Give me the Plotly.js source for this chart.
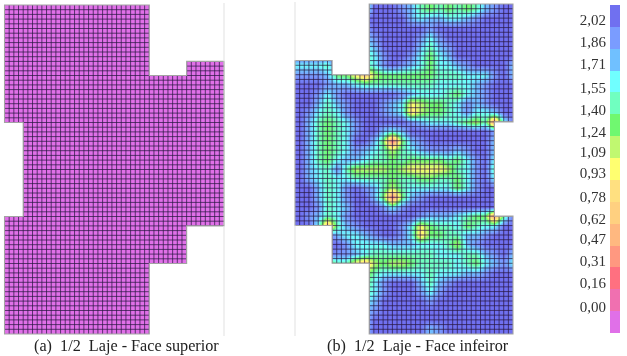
<!DOCTYPE html>
<html><head><meta charset="utf-8">
<script src="https://cdn.plot.ly/plotly-3.0.1.min.js"></script>
<style>html,body{margin:0;padding:0;background:#fff;overflow:hidden}#c{width:627px;height:356px;filter:blur(0.5px)}</style>
</head><body><div id="c"></div>
<script>
// legend: value of each band, bottom band first
const levelValues = [-0.16,0.00,0.16,0.31,0.47,0.62,0.78,0.93,1.09,1.24,1.40,1.55,1.71,1.86,2.02];
const levelColors = ['#e070e8','#f070b0','#ff7080','#ff9880','#ffb880','#ffd080','#ffe080','#ffff70','#c0f870','#70f870','#70ffc0','#70ffff','#70c0ff','#7a9cff','#7070f0'];
const legendLabels = ['2,02','1,86','1,71','1,55','1,40','1,24','1,09','0,93','0,78','0,62','0,47','0,31','0,16','0,00'];
const legendLabelPos = [0.69,1.69,2.69,3.79,4.80,5.80,6.72,7.68,8.78,9.78,10.70,11.70,12.70,13.80];
const captions = ['(a)\u00a0\u00a01/2\u00a0\u00a0Laje - Face superior','(b)\u00a0\u00a01/2\u00a0\u00a0Laje - Face infeiror'];

// face inferior: stress band index (hex), one character per 2 mesh cells
const faceInferiorBands = [
"eeeeeeeaeeedca9a9a9acdee",
"eeeeeeeeeeeecbccbbcdeeee",
"eeeeeeedeeeeeedeeeeeeeee",
"eeeeeeecdeeeedbdeeeeeeee",
"eeeeeeebceeeecacdeeeeeee",
"eeeeeeeabdeedb9bceeeeeee",
"bbbaeeeabdedcb9bbcdeeeec",
"dddc99758999999aaabbbdec",
"eeedccbaaaaaaaabbbbcdeee",
"eedbdeeeeeedcbbba9bcdeee",
"eecacdeeedcb7899abdcdeee",
"edbabdeeedcb6899abdbbcee",
"eca9abdeeeeedcbbba98a3be",
"eca9abdeecbceeeeeeeeedee",
"eca9abeec929cdeeeeeeecee",
"eca9abdcba8abcdddcdeecee",
"eca9bccbaa9a9999a9bdebee",
"ecbada88889877778abdeaee",
"ecbabbaaaa9aa99aa9bdebee",
"eecabdedca8abbbbb9bdeeee",
"eecabdeec929cdeeeeeeeeee",
"eedabceeedbdeeeeeeeeeeee",
"edcabdeeeeeeedcccba993ae",
"eeb4acdeeeedb79aab9abbee",
"eeeecbbcdeedb699aaccdeee",
"eeeeedbbbbcccbbba8cdeeee",
"eeeeddcbaaaaaaabbbaacdec",
"eee8aa7589889aaaaba9bcdb",
"eeeeeee8abbbbbabbbccdeee",
"eeeeeee9bdeeecacdeeeeeee",
"eeeeeeeabdeeedbdeeeeeeee",
"eeeeeeebceeeeedeeeeeeeee",
"eeeeeeecdeeeeeeeeeeeeeee",
"eeeeeeeceeeeeeeeeeeeeeee",
"eeeeeeeceeeeeecdeeeeeeee"
];
const faceSuperiorValue = [[-0.16]];

// mesh size and slab outlines, in mesh cells
const meshCols = 47, meshRows = 70;
const outlineAx = [0,31,31,39,39,47,47,39,39,31,31,0,0,4,4,0,0];
const outlineAy = [0,0,15,15,12,12,47,47,55,55,70,70,45,45,25,25,0];
const outlineBx = [16,47,47,43,43,47,47,16,16,8,8,0,0,8,8,16,16];
const outlineBy = [0,0,25,25,45,45,70,70,55,55,47,47,12,12,15,15,0];
// cut-outs as [x0,x1,y0,y1]; they overlap or run past the slab edge so no seam shows
const holesA = [[31,48,-1,12],[31,39,11,15],[-1,4,25,45],[39,48,47,71],[31,40,55,71]];
const holesB = [[-1,16,-1,12],[8,16,11,15],[43,48,25,45],[-1,8,47,71],[7,16,55,71],[47,48,-1,71]];

const zInf = faceInferiorBands.map(r => r.split('').map(c => levelValues[parseInt(c,16)]));
const nodeX = zInf[0].map((_,i)=>2*i+1), nodeY = zInf.map((_,j)=>2*j+1);
const cs = levelColors.map((c,i)=>[(levelValues[i]-levelValues[0])/(levelValues[14]-levelValues[0]),c]);
const zr = {zmin:levelValues[0],zmax:levelValues[14],colorscale:cs,showscale:false,hoverinfo:'skip'};

const mx=[],my=[];
for(let i=1;i<meshCols;i++){mx.push(i,i,null);my.push(0,meshRows,null);}
for(let j=1;j<meshRows;j++){mx.push(0,meshCols,null);my.push(j,j,null);}
const mesh = (xa,ya)=>({type:'scatter',mode:'lines',x:mx,y:my,xaxis:xa,yaxis:ya,hoverinfo:'skip',
  line:{color:'rgba(40,22,65,0.72)',width:1}});

const data = [
 Object.assign({type:'heatmap',x:[0,meshCols],y:[0,meshRows],z:faceSuperiorValue,xaxis:'x',yaxis:'y'},zr),
 mesh('x','y'),
 Object.assign({type:'heatmap',x:nodeX,y:nodeY,z:zInf,zsmooth:'best',xaxis:'x2',yaxis:'y2'},zr),
 mesh('x2','y2'),
 Object.assign({type:'heatmap',x:[0,1],y:levelValues.map((_,i)=>i).concat([15]),z:levelValues.slice().reverse().map(v=>[v]),xaxis:'x3',yaxis:'y3'},zr)
];

const W=627,H=356;
const dx=(a,b)=>[a/W,b/W], dy=(a,b)=>[1-b/H,1-a/H];
const off={visible:false,fixedrange:true};
const holeShapes=(hs,xr,yr)=>hs.map(h=>({type:'rect',xref:xr,yref:yr,x0:h[0],x1:h[1],y0:h[2],y1:h[3],fillcolor:'#fff',line:{width:0},layer:'above'}));
const outline=(xs,ys,xr,yr)=>({type:'path',xref:xr,yref:yr,path:xs.map((x,i)=>(i?'L':'M')+x+','+ys[i]).join(' ')+' Z',line:{color:'#a3a3a3',width:1.1},layer:'above'});
const faint=(x,y0,y1,xr,yr)=>({type:'line',xref:xr,yref:yr,x0:x,x1:x,y0:y0,y1:y1,line:{color:'#e6e6e6',width:1.2},layer:'above'});

const layout={width:W,height:H,margin:{l:0,r:0,t:0,b:0},paper_bgcolor:'#fff',plot_bgcolor:'#fff',showlegend:false,
 xaxis:Object.assign({domain:dx(2.17,226.33),range:[-0.5,47.5]},off),
 yaxis:Object.assign({domain:dy(2.65,336.35),range:[70.5,-0.5]},off),
 xaxis2:Object.assign({domain:dx(292.68,515.32),range:[-0.5,47.5]},off),
 yaxis2:Object.assign({domain:dy(1.64,336.36),range:[70.5,-0.5]},off),
 xaxis3:Object.assign({domain:dx(610,620),range:[0,1]},off),
 yaxis3:{domain:dy(5,333),range:[15,0],fixedrange:true,showgrid:false,zeroline:false,showline:false,anchor:'x3',
   tickmode:'array',tickvals:legendLabelPos,ticktext:legendLabels,ticks:'',ticklabelstandoff:3,
   tickfont:{family:'"Liberation Serif",serif',size:15,color:'#333'}},
 shapes:[].concat(holeShapes(holesA,'x','y'),holeShapes(holesB,'x2','y2'),
   [outline(outlineAx,outlineAy,'x','y'),outline(outlineBx,outlineBy,'x2','y2'),
    faint(47,-0.4,12,'x','y'),faint(47,47,70.4,'x','y'),faint(0,-0.4,12,'x2','y2'),faint(0,47,70.4,'x2','y2')]),
 annotations:[
  {xref:'paper',yref:'paper',x:126.5/W,y:1-346/H,text:captions[0],showarrow:false,xanchor:'center',yanchor:'middle',font:{family:'"Liberation Serif",serif',size:16.2,color:'#222'}},
  {xref:'paper',yref:'paper',x:417.5/W,y:1-346/H,text:captions[1],showarrow:false,xanchor:'center',yanchor:'middle',font:{family:'"Liberation Serif",serif',size:16.2,color:'#222'}}
 ]};
Plotly.newPlot('c',data,layout,{displayModeBar:false,staticPlot:true});
</script></body></html>
